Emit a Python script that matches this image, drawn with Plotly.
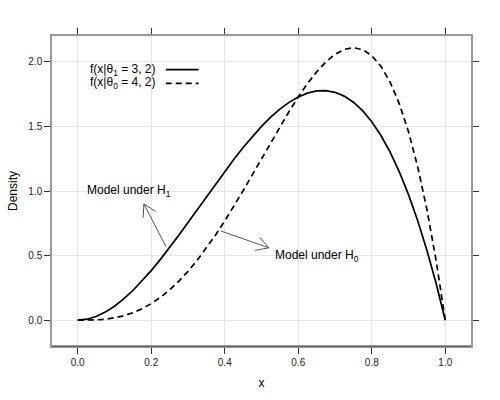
"""Beta densities under H0 and H1, lattice-style plot."""

import math

import plotly.graph_objects as go

# x grid and the two densities
X = [0.0, 0.025, 0.05, 0.075, 0.1, 0.125, 0.15, 0.175, 0.2, 0.225, 0.25,
     0.275, 0.3, 0.325, 0.35, 0.375, 0.4, 0.425, 0.45, 0.475, 0.5,
     0.525, 0.55, 0.575, 0.6, 0.625, 0.65, 0.675, 0.7, 0.725, 0.75,
     0.775, 0.8, 0.825, 0.85, 0.875, 0.9, 0.925, 0.95, 0.975, 1.0]
DENSITY_H1 = [0.0, 0.0073, 0.0285, 0.0624, 0.108, 0.1641, 0.2295, 0.3032, 0.384, 0.4708, 0.5625,
              0.6579, 0.756, 0.8556, 0.9555, 1.0547, 1.152, 1.2463, 1.3365, 1.4214, 1.5,
              1.5711, 1.6335, 1.6862, 1.728, 1.7578, 1.7745, 1.7769, 1.764, 1.7346, 1.6875,
              1.6217, 1.536, 1.4293, 1.3005, 1.1484, 0.972, 0.7701, 0.5415, 0.2852, 0.0]
DENSITY_H0 = [0.0, 0.0003, 0.0024, 0.0078, 0.018, 0.0342, 0.0574, 0.0884, 0.128, 0.1766, 0.2344,
              0.3015, 0.378, 0.4634, 0.5574, 0.6592, 0.768, 0.8828, 1.0024, 1.1253, 1.25,
              1.3747, 1.4974, 1.6159, 1.728, 1.8311, 1.9224, 1.999, 2.058, 2.096, 2.1094,
              2.0947, 2.048, 1.9653, 1.8424, 1.6748, 1.458, 1.1873, 0.8574, 0.4634, 0.0]

X_TICKS = [0.0, 0.2, 0.4, 0.6, 0.8, 1.0]
Y_TICKS = [0.0, 0.5, 1.0, 1.5, 2.0]
X_RANGE = [-0.07, 1.07]
Y_RANGE = [-0.2, 2.2]

LEGEND_LABELS = ["f(x|θ<sub>1</sub> = 3, 2)", "f(x|θ<sub>0</sub> = 4, 2)"]
LABEL_H1 = "Model under H<sub>1</sub>"
LABEL_H0 = "Model under H<sub>0</sub>"

W, H = 500, 400
MARGIN = {"l": 51, "r": 29, "t": 36, "b": 50}
FONT = "Liberation Sans, Arial, Helvetica, sans-serif"
ARROW_COLOR = "#555555"


def px_scale():
    pw = W - MARGIN["l"] - MARGIN["r"]
    ph = H - MARGIN["t"] - MARGIN["b"]
    return pw / (X_RANGE[1] - X_RANGE[0]), ph / (Y_RANGE[1] - Y_RANGE[0])


def arrow_path(x0, y0, x1, y1, length=14, angle=30):
    """Open-V arrow from (x0, y0) to (x1, y1) in data coordinates."""
    sx, sy = px_scale()
    dx, dy = (x1 - x0) * sx, (y1 - y0) * sy
    theta = math.atan2(dy, dx)
    legs = []
    for sign in (1, -1):
        a = theta + math.pi + sign * math.radians(angle)
        legs.append((x1 + length * math.cos(a) / sx, y1 + length * math.sin(a) / sy))
    return (f"M {x0},{y0} L {x1},{y1} "
            f"M {legs[0][0]},{legs[0][1]} L {x1},{y1} L {legs[1][0]},{legs[1][1]}")


fig = go.Figure()
fig.add_trace(go.Scatter(x=X, y=DENSITY_H1, mode="lines",
                         line={"color": "black", "width": 1.7}, showlegend=False))
fig.add_trace(go.Scatter(x=X, y=DENSITY_H0, mode="lines",
                         line={"color": "black", "width": 1.7, "dash": "6px,4px"}, showlegend=False))

shapes = []
for path in (arrow_path(0.24, 0.57, 0.18, 0.9), arrow_path(0.39, 0.69, 0.52, 0.56)):
    shapes.append({"type": "path", "path": path, "xref": "x", "yref": "y",
                   "line": {"color": ARROW_COLOR, "width": 1}})

# legend keys (text left, line right)
pw = W - MARGIN["l"] - MARGIN["r"]
ph = H - MARGIN["t"] - MARGIN["b"]
annotations = []
for i, (label, dash) in enumerate(zip(LEGEND_LABELS, ["solid", "6px,4px"])):
    ypx = 70 + 14 * i
    yp = (H - MARGIN["b"] - ypx) / ph
    shapes.append({"type": "line", "xref": "paper", "yref": "paper",
                   "x0": (165 - MARGIN["l"]) / pw, "x1": (198 - MARGIN["l"]) / pw,
                   "y0": yp, "y1": yp, "line": {"color": "black", "width": 1.7, "dash": dash}})
    annotations.append({"text": label, "xref": "paper", "yref": "paper",
                        "x": (87 - MARGIN["l"]) / pw, "y": yp, "xanchor": "left", "yanchor": "middle",
                        "showarrow": False, "font": {"size": 12, "color": "black"}})

annotations.append({"text": LABEL_H1, "x": 0.14, "y": 1.0, "xref": "x", "yref": "y",
                    "showarrow": False, "font": {"size": 12, "color": "black"}})
annotations.append({"text": LABEL_H0, "x": 0.65, "y": 0.5, "xref": "x", "yref": "y",
                    "showarrow": False, "font": {"size": 12, "color": "black"}})

# darker bottom axis line, as in lattice
shapes.append({"type": "line", "xref": "paper", "yref": "paper", "x0": 0, "x1": 1, "y0": 0, "y1": 0,
               "line": {"color": "#333333", "width": 1}})

fig.update_layout(
    width=W,
    height=H,
    margin=MARGIN,
    paper_bgcolor="white",
    plot_bgcolor="white",
    font={"family": FONT, "size": 10, "color": "black"},
    shapes=shapes,
    annotations=annotations,
    showlegend=False,
)
axis_style = dict(
    showline=True, linecolor="#999999", linewidth=1.5, mirror="ticks",
    ticks="outside", ticklen=6, tickcolor="#333333", tickwidth=1,
    showgrid=True, gridcolor="#e6e6e6", gridwidth=1, zeroline=False,
    tickfont={"size": 10, "color": "#222222"},
)
fig.update_xaxes(range=X_RANGE, tickvals=X_TICKS, ticktext=[f"{v:.1f}" for v in X_TICKS],
                 title={"text": "x", "font": {"size": 12}, "standoff": 12}, **axis_style)
fig.update_yaxes(range=Y_RANGE, tickvals=Y_TICKS, ticktext=[f"{v:.1f}" for v in Y_TICKS],
                 title={"text": "Density", "font": {"size": 12}, "standoff": 8}, **axis_style)

fig.write_html("out.html", config={"displayModeBar": False},
               post_script="document.body.style.margin='0';")
